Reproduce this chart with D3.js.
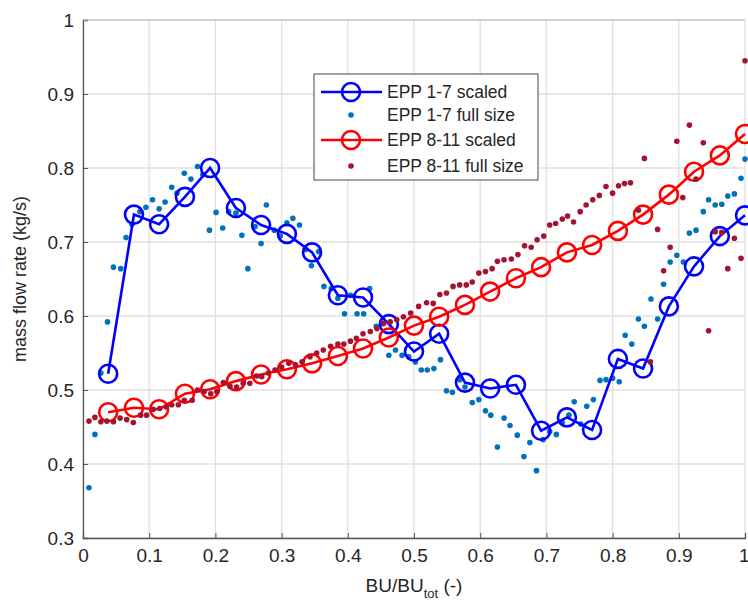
<!DOCTYPE html>
<html>
<head>
<meta charset="utf-8">
<script src="https://cdn.jsdelivr.net/npm/d3@7"></script>
<style>
  body { margin: 0; background: #fff; }
  svg text { font-family: "Liberation Sans", Arial, sans-serif; fill: #262626; }
</style>
</head>
<body>
<svg id="chart" width="748" height="610"></svg>
<script>
// scaled series share the same x positions
const scaledX = [0.038, 0.077, 0.115, 0.154, 0.192, 0.231, 0.269, 0.308, 0.346, 0.385, 0.423, 0.462, 0.5,
    0.538, 0.577, 0.615, 0.654, 0.692, 0.731, 0.769, 0.808, 0.846, 0.885, 0.923, 0.962, 1.0];
const epp17Scaled = [0.522, 0.737, 0.724, 0.761, 0.800, 0.746, 0.723, 0.711, 0.686, 0.628, 0.625, 0.589, 0.552,
    0.576, 0.510, 0.502, 0.507, 0.445, 0.463, 0.446, 0.542, 0.529, 0.613, 0.667, 0.708, 0.736];
const epp811Scaled = [0.470, 0.476, 0.474, 0.495, 0.501, 0.512, 0.521, 0.528, 0.536, 0.546, 0.556, 0.571, 0.587,
    0.599, 0.615, 0.633, 0.651, 0.666, 0.686, 0.696, 0.715, 0.737, 0.764, 0.795, 0.817, 0.846];

const epp17FullX = [0.009, 0.018, 0.027, 0.037, 0.046, 0.057, 0.065, 0.074, 0.086, 0.095, 0.105, 0.115, 0.124,
    0.134, 0.142, 0.153, 0.163, 0.173, 0.181, 0.191, 0.201, 0.211, 0.220, 0.231, 0.240, 0.249, 0.260, 0.269,
    0.277, 0.289, 0.298, 0.308, 0.317, 0.327, 0.336, 0.345, 0.356, 0.364, 0.375, 0.385, 0.395, 0.404, 0.414,
    0.424, 0.433, 0.443, 0.452, 0.462, 0.472, 0.482, 0.492, 0.502, 0.511, 0.520, 0.530, 0.540, 0.549, 0.558,
    0.569, 0.577, 0.588, 0.598, 0.608, 0.616, 0.626, 0.636, 0.645, 0.656, 0.666, 0.675, 0.685, 0.695, 0.705,
    0.715, 0.724, 0.734, 0.742, 0.752, 0.761, 0.771, 0.781, 0.790, 0.800, 0.810, 0.819, 0.829, 0.839, 0.848,
    0.858, 0.868, 0.877, 0.887, 0.897, 0.907, 0.916, 0.926, 0.937, 0.945, 0.955, 0.965, 0.974, 0.984, 0.994, 1.0];
const epp17Full = [0.368, 0.440, 0.523, 0.592, 0.666, 0.664, 0.706, 0.724, 0.741, 0.747, 0.757, 0.745, 0.754,
    0.774, 0.766, 0.793, 0.785, 0.802, 0.791, 0.716, 0.740, 0.719, 0.741, 0.739, 0.709, 0.664, 0.721, 0.698,
    0.750, 0.716, 0.708, 0.726, 0.732, 0.723, 0.690, 0.668, 0.687, 0.640, 0.637, 0.624, 0.603, 0.628, 0.603,
    0.603, 0.637, 0.586, 0.590, 0.547, 0.554, 0.547, 0.545, 0.538, 0.527, 0.527, 0.529, 0.541, 0.499, 0.497,
    0.514, 0.504, 0.483, 0.487, 0.472, 0.466, 0.423, 0.462, 0.452, 0.439, 0.410, 0.429, 0.391, 0.433, 0.444,
    0.440, 0.456, 0.466, 0.484, 0.454, 0.478, 0.487, 0.513, 0.514, 0.516, 0.511, 0.574, 0.562, 0.596, 0.586,
    0.623, 0.596, 0.643, 0.673, 0.682, 0.673, 0.712, 0.716, 0.741, 0.757, 0.750, 0.751, 0.762, 0.765, 0.786, 0.812];

const epp811FullX = [0.009, 0.018, 0.027, 0.036, 0.046, 0.056, 0.066, 0.076, 0.087, 0.096, 0.106, 0.116, 0.126,
    0.134, 0.144, 0.153, 0.165, 0.173, 0.183, 0.193, 0.202, 0.212, 0.222, 0.232, 0.242, 0.252, 0.262, 0.270,
    0.280, 0.290, 0.300, 0.311, 0.321, 0.331, 0.343, 0.353, 0.363, 0.374, 0.385, 0.394, 0.404, 0.413, 0.423,
    0.434, 0.444, 0.454, 0.464, 0.474, 0.484, 0.495, 0.507, 0.519, 0.529, 0.539, 0.549, 0.559, 0.569, 0.579,
    0.588, 0.598, 0.608, 0.618, 0.626, 0.636, 0.647, 0.657, 0.667, 0.677, 0.686, 0.696, 0.705, 0.714, 0.724,
    0.732, 0.741, 0.751, 0.760, 0.770, 0.780, 0.790, 0.800, 0.809, 0.818, 0.827, 0.839, 0.848, 0.857, 0.868,
    0.877, 0.887, 0.897, 0.906, 0.916, 0.926, 0.937, 0.945, 0.955, 0.965, 0.974, 0.984, 0.994, 1.0];
const epp811Full = [0.458, 0.463, 0.457, 0.458, 0.457, 0.462, 0.460, 0.456, 0.466, 0.466, 0.474, 0.475, 0.477,
    0.480, 0.480, 0.486, 0.486, 0.500, 0.498, 0.495, 0.498, 0.510, 0.505, 0.504, 0.509, 0.509, 0.519, 0.518,
    0.523, 0.527, 0.531, 0.536, 0.534, 0.538, 0.545, 0.550, 0.554, 0.559, 0.562, 0.562, 0.566, 0.570, 0.576,
    0.579, 0.583, 0.590, 0.592, 0.595, 0.599, 0.604, 0.613, 0.618, 0.617, 0.629, 0.631, 0.640, 0.642, 0.642,
    0.646, 0.658, 0.660, 0.664, 0.674, 0.676, 0.677, 0.683, 0.695, 0.693, 0.703, 0.708, 0.723, 0.725, 0.731,
    0.735, 0.727, 0.741, 0.750, 0.757, 0.763, 0.775, 0.766, 0.776, 0.779, 0.780, 0.743, 0.813, 0.538, 0.717,
    0.661, 0.693, 0.836, 0.760, 0.858, 0.785, 0.834, 0.580, 0.714, 0.713, 0.664, 0.705, 0.678, 0.945];

const xTicks = [0, 0.1, 0.2, 0.3, 0.4, 0.5, 0.6, 0.7, 0.8, 0.9, 1];
const yTicks = [0.3, 0.4, 0.5, 0.6, 0.7, 0.8, 0.9, 1];
const legendLabels = ['EPP 1-7 scaled', 'EPP 1-7 full size', 'EPP 8-11 scaled', 'EPP 8-11 full size'];

const margin = {top: 20, right: 3, bottom: 72, left: 83},
    width = 748 - margin.left - margin.right,
    height = 610 - margin.top - margin.bottom;

const svg = d3.select('#chart');
const g = svg.append('g').attr('transform', `translate(${margin.left}, ${margin.top})`);

const xScale = d3.scaleLinear().domain([0, 1]).range([0, width]);
const yScale = d3.scaleLinear().domain([0.3, 1]).range([height, 0]);

// grid
g.append('g').selectAll('line').data(xTicks).join('line')
    .attr('x1', d => xScale(d)).attr('x2', d => xScale(d))
    .attr('y1', 0).attr('y2', height)
    .attr('stroke', '#e0e0e0').attr('stroke-width', 1.3);
g.append('g').selectAll('line').data(yTicks).join('line')
    .attr('x1', 0).attr('x2', width)
    .attr('y1', d => yScale(d)).attr('y2', d => yScale(d))
    .attr('stroke', '#e0e0e0').attr('stroke-width', 1.3);

// axes
const xAxis = d3.axisBottom(xScale).tickValues(xTicks).tickFormat(d3.format('')).tickSize(-5).tickPadding(11);
const yAxis = d3.axisLeft(yScale).tickValues(yTicks).tickFormat(d3.format('')).tickSize(-5).tickPadding(9);

const xAxisContainer = g.append('g').attr('transform', `translate(0, ${height})`).call(xAxis);
const yAxisContainer = g.append('g').call(yAxis);
[xAxisContainer, yAxisContainer].forEach(a => {
    a.select('.domain').attr('stroke', '#555').attr('stroke-width', 1.3);
    a.selectAll('.tick line').attr('stroke', '#555');
    a.selectAll('.tick text').attr('font-size', 19).attr('fill', '#333');
});
// last x label sits at the window edge, nudge it in so it is not clipped
xAxisContainer.selectAll('.tick text').filter(d => d === 1).attr('text-anchor', 'end').attr('dx', 4);

// top border
g.append('line').attr('x1', 0).attr('x2', width).attr('y1', 0).attr('y2', 0)
    .attr('stroke', '#bbb').attr('stroke-width', 1);

const line = d3.line().x(d => xScale(d[0])).y(d => yScale(d[1]));

const drawScaled = (ys, color) => {
    const pts = scaledX.map((x, i) => [x, ys[i]]);
    g.append('path').datum(pts).attr('d', line)
        .attr('fill', 'none').attr('stroke', color).attr('stroke-width', 2.6);
    g.append('g').selectAll('circle').data(pts).join('circle')
        .attr('cx', d => xScale(d[0])).attr('cy', d => yScale(d[1])).attr('r', 9)
        .attr('fill', 'none').attr('stroke', color).attr('stroke-width', 2.6);
};
const drawDots = (xs, ys, color) => {
    g.append('g').selectAll('circle').data(xs.map((x, i) => [x, ys[i]])).join('circle')
        .attr('cx', d => xScale(d[0])).attr('cy', d => yScale(d[1])).attr('r', 2.8)
        .attr('fill', color);
};

drawDots(epp17FullX, epp17Full, '#0072BD');
drawScaled(epp17Scaled, '#0000FF');
drawScaled(epp811Scaled, '#FF0000');
drawDots(epp811FullX, epp811Full, '#A2142F');

// axis labels
const xLabel = svg.append('text').attr('x', 414).attr('y', 592).attr('text-anchor', 'middle').attr('font-size', 19);
xLabel.append('tspan').text('BU/BU');
xLabel.append('tspan').attr('font-size', 13).attr('dy', 6).text('tot');
xLabel.append('tspan').attr('dy', -6).text(' (-)');

svg.append('text').attr('transform', 'translate(26, 279) rotate(-90)')
    .attr('text-anchor', 'middle').attr('font-size', 18).text('mass flow rate (kg/s)');

// legend
const legend = svg.append('g').attr('transform', 'translate(314, 74)');
legend.append('rect').attr('width', 224).attr('height', 106)
    .attr('fill', '#fff').attr('stroke', '#444').attr('stroke-width', 1);
const rowsY = [18, 41, 66, 92];
const legendStyle = [
    {type: 'line', color: '#0000FF'}, {type: 'dot', color: '#0072BD'},
    {type: 'line', color: '#FF0000'}, {type: 'dot', color: '#A2142F'}
];
legendLabels.forEach((lab, i) => {
    const row = legend.append('g').attr('transform', `translate(0, ${rowsY[i]})`);
    const s = legendStyle[i];
    if (s.type === 'line') {
        row.append('line').attr('x1', 7).attr('x2', 68).attr('y1', 0).attr('y2', 0)
            .attr('stroke', s.color).attr('stroke-width', 2.6);
        row.append('circle').attr('cx', 37).attr('cy', 0).attr('r', 9)
            .attr('fill', 'none').attr('stroke', s.color).attr('stroke-width', 2.6);
    } else {
        row.append('circle').attr('cx', 37).attr('cy', 0).attr('r', 2.8).attr('fill', s.color);
    }
    row.append('text').attr('x', 73).attr('y', 6).attr('font-size', 17.5).text(lab);
});
</script>
</body>
</html>
